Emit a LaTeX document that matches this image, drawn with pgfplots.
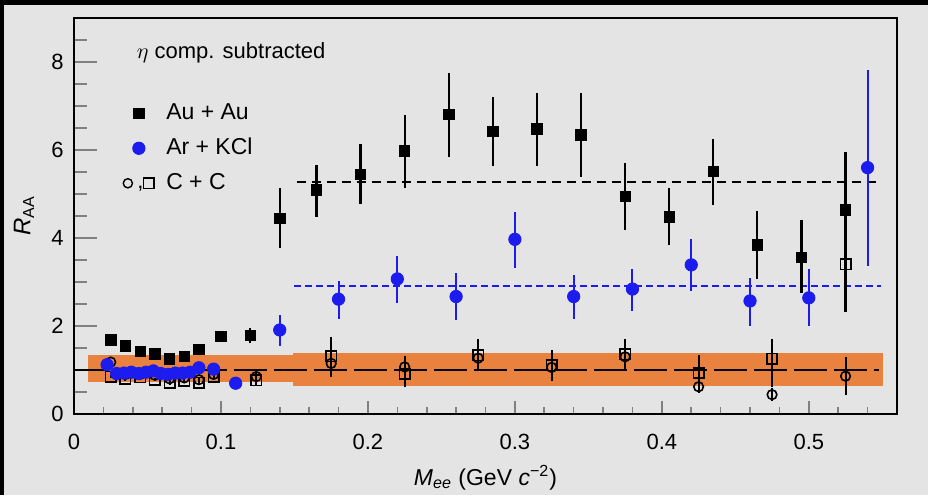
\documentclass[border=0pt]{standalone}
\usepackage{fontspec}
\setmainfont{Liberation Sans}
\usepackage{pgfplots}
\pgfplotsset{compat=1.18}

\definecolor{bgc}{RGB}{228,228,228}
\definecolor{band}{RGB}{232,130,62}
\definecolor{kcl}{RGB}{28,28,238}

\begin{document}
\begin{tikzpicture}
% page background and the dark strips at the top and left edge
\fill[bgc] (-37pt,-40.5pt) rectangle (427pt,207pt);
\fill[black] (-37pt,204.5pt) rectangle (427pt,207pt);
\fill[black] (-37pt,-40.5pt) rectangle (-35pt,207pt);
\begin{axis}[
  at={(0,0)}, anchor=south west,
  scale only axis, width=411.5pt, height=198pt,
  xmin=0, xmax=0.56, ymin=0, ymax=9,
  axis line style={line width=0.8pt},
  tick align=inside, xtick pos=bottom, ytick pos=left,
  xtick={0,0.1,0.2,0.3,0.4,0.5}, xticklabels={0,0.1,0.2,0.3,0.4,0.5},
  ytick={0,2,4,6,8}, yticklabels={0,2,4,6,8},
  minor xtick={0.02,0.04,0.06,0.08,0.12,0.14,0.16,0.18,0.22,0.24,0.26,0.28,0.32,0.34,0.36,0.38,0.42,0.44,0.46,0.48,0.52,0.54},
  minor ytick={0.5,1,1.5,2.5,3,3.5,4.5,5,5.5,6.5,7,7.5,8.5},
  xtick style={line width=0.8pt, /pgfplots/major tick length=6.7pt, /pgfplots/minor tick length=3.3pt},
  ytick style={line width=0.8pt, /pgfplots/major tick length=11.3pt, /pgfplots/minor tick length=6.3pt},
  tick label style={font=\fontsize{11}{13}\selectfont},
  xticklabel style={yshift=-6.7pt},
  yticklabel style={xshift=-1.7pt},
  xlabel={\textit{M}\textsubscript{\textit{ee}} (GeV \textit{c}\textsuperscript{−2})},
  xlabel style={at={([yshift=-35.5pt]rel axis cs:0.5,0)}, anchor=base, font=\fontsize{11.5}{13}\selectfont},
  ylabel={\textit{R}\textsubscript{AA}},
  ylabel style={at={([xshift=-25pt]rel axis cs:0,0.5)}, anchor=center, font=\fontsize{12}{14}\selectfont},
  legend style={at={(axis cs:0.0259,7.14)}, anchor=north west, draw=none, fill=none,
    inner sep=0pt, row sep=4.5pt, font=\fontsize{11.5}{13}\selectfont,
    nodes={inner sep=1pt, text height=8.5pt, text depth=2.5pt}},
  legend cell align=left,
]
% systematic bands
\addplot[fill=band, draw=none, forget plot] coordinates {(0.0097,0.72) (0.149,0.72) (0.149,1.33) (0.0097,1.33)} -- cycle;
\addplot[fill=band, draw=none, forget plot] coordinates {(0.149,0.63) (0.5503,0.63) (0.5503,1.38) (0.149,1.38)} -- cycle;

% reference levels
\addplot[black, line width=0.8pt, dash pattern=on 16.5pt off 3.5pt, forget plot] coordinates {(0,1) (0.548,1)};
\addplot[black, line width=0.8pt, dash pattern=on 4.5pt off 3pt, forget plot] coordinates {(0.1515,5.28) (0.549,5.28)};
\addplot[draw=kcl, mark=none, line width=1pt, dash pattern=on 3.5pt off 2pt, forget plot] coordinates {(0.15,2.92) (0.549,2.92)};

% C + C, open squares
\addplot[black, only marks, mark=square, mark size=2.6pt, mark options={line width=0.8pt}, forget plot,
  error bars/.cd, y dir=both, y explicit, error mark=none, error bar style={line width=1pt, black}]
  table[x=x, y=y, y error plus=ep, y error minus=em] {
x     y    ep   em
0.025 0.85 0.04 0.04
0.035 0.80 0.04 0.04
0.045 0.83 0.04 0.04
0.055 0.78 0.04 0.04
0.065 0.71 0.04 0.04
0.075 0.75 0.04 0.04
0.085 0.71 0.04 0.04
0.095 0.84 0.04 0.04
0.124 0.77 0.10 0.10
0.175 1.31 0.43 0.35
0.225 0.92 0.35 0.30
0.275 1.33 0.38 0.35
0.325 1.11 0.35 0.35
0.375 1.36 0.35 0.38
0.425 0.93 0.40 0.30
0.475 1.26 0.44 0.64
0.525 3.40 1.10 1.08
};

% C + C, open circles
\addplot[black, only marks, mark=o, mark size=2.4pt, mark options={line width=0.8pt}, forget plot,
  error bars/.cd, y dir=both, y explicit, error mark=none, error bar style={line width=1pt, black}]
  table[x=x, y=y, y error plus=ep, y error minus=em] {
x     y    ep   em
0.025 1.18 0.04 0.04
0.035 0.90 0.04 0.04
0.045 0.90 0.04 0.04
0.055 0.88 0.04 0.04
0.065 0.80 0.04 0.04
0.075 0.82 0.04 0.04
0.085 0.78 0.04 0.04
0.095 0.90 0.04 0.04
0.124 0.85 0.12 0.12
0.175 1.15 0.30 0.30
0.225 1.07 0.25 0.25
0.275 1.27 0.30 0.30
0.325 1.06 0.30 0.30
0.375 1.30 0.30 0.30
0.425 0.62 0.14 0.14
0.475 0.44 0.15 0.15
0.525 0.86 0.43 0.43
};

% Au + Au
\addplot[black, only marks, mark=square*, mark size=2.6pt, forget plot,
  error bars/.cd, y dir=both, y explicit, error mark=none, error bar style={line width=1.1pt, black}]
  table[x=x, y=y, y error plus=ep, y error minus=em] {
x     y    ep   em
0.025 1.68 0.08 0.08
0.035 1.55 0.08 0.08
0.045 1.42 0.08 0.08
0.055 1.37 0.08 0.08
0.065 1.25 0.08 0.08
0.075 1.31 0.08 0.08
0.085 1.47 0.08 0.08
0.100 1.76 0.10 0.10
0.120 1.78 0.17 0.17
0.140 4.45 0.69 0.68
0.165 5.09 0.58 0.62
0.195 5.45 0.69 0.68
0.225 5.98 0.82 0.85
0.255 6.81 0.95 0.96
0.285 6.43 0.78 0.79
0.315 6.48 0.82 0.84
0.345 6.34 0.96 0.96
0.375 4.94 0.77 0.76
0.405 4.48 0.65 0.64
0.435 5.52 0.74 0.76
0.465 3.84 0.78 0.78
0.495 3.56 0.86 0.82
0.525 4.64 1.32 2.32
};

% Ar + KCl
\addplot[kcl, only marks, mark=*, mark size=3.1pt, forget plot,
  error bars/.cd, y dir=both, y explicit, error mark=none, error bar style={line width=1pt, kcl}]
  table[x=x, y=y, y error plus=ep, y error minus=em] {
x      y    ep   em
0.0225 1.12 0.05 0.05
0.029  0.92 0.05 0.05
0.034  0.93 0.05 0.05
0.039  0.95 0.05 0.05
0.044  0.92 0.05 0.05
0.049  0.95 0.05 0.05
0.054  0.98 0.05 0.05
0.059  0.92 0.05 0.05
0.064  0.90 0.05 0.05
0.069  0.93 0.05 0.05
0.074  0.93 0.05 0.05
0.079  0.95 0.05 0.05
0.085  1.05 0.05 0.05
0.095  1.02 0.05 0.05
0.110  0.70 0.05 0.05
0.140  1.91 0.34 0.36
0.180  2.61 0.42 0.44
0.220  3.07 0.52 0.55
0.260  2.67 0.54 0.53
0.300  3.97 0.62 0.66
0.340  2.67 0.50 0.50
0.380  2.84 0.46 0.50
0.420  3.39 0.58 0.59
0.460  2.57 0.51 0.56
0.500  2.64 0.66 0.63
0.540  5.60 2.23 2.24
};

% legend
\addlegendimage{legend image code/.code={
  \path (0pt,0pt) (25.5pt,0pt);
  \draw[black, mark size=2.6pt] plot[only marks, mark=square*] coordinates {(13pt,0pt)};}}
\addlegendentry{Au + Au}
\addlegendimage{legend image code/.code={
  \path (0pt,0pt) (25.5pt,0pt);
  \draw[kcl, mark size=3.1pt] plot[only marks, mark=*] coordinates {(13pt,0pt)};}}
\addlegendentry{Ar + KCl}
\addlegendimage{legend image code/.code={
  \path (0pt,0pt) (25.5pt,0pt);
  \draw[black, line width=0.7pt, mark size=2.3pt] plot[only marks, mark=o] coordinates {(7.5pt,0pt)};
  \node[inner sep=0pt, text height=3pt, text depth=1pt, font=\fontsize{11}{13}\selectfont] at (12pt,-1.5pt) {,};
  \draw[black, line width=0.7pt, mark size=2.6pt] plot[only marks, mark=square] coordinates {(18pt,0pt)};}}
\addlegendentry{C + C}

\node[anchor=west, font=\fontsize{11}{13}\selectfont] at (axis cs:0.038,8.2) {$\eta$ comp. subtracted};
\end{axis}
\pgfresetboundingbox
\path[use as bounding box] (-37pt,-40.5pt) rectangle (427pt,207pt);
\end{tikzpicture}
\end{document}
